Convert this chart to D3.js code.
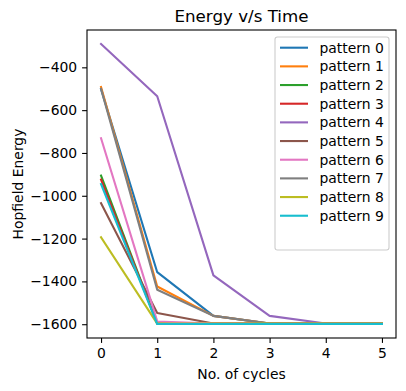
<!doctype html>
<html>
<head>
<style>
    body { margin: 0; background: white; }
    svg { display: block; font-family: "DejaVu Sans", sans-serif; }
    .axis path, .axis line { stroke: black; stroke-width: 1.1; }
    .axis text { font-size: 13.9px; fill: black; font-family: "DejaVu Sans", sans-serif; }
    .series { fill: none; stroke-width: 2.1; stroke-linejoin: round; stroke-linecap: square; }
</style>
<script src="https://d3js.org/d3.v7.min.js"></script>
</head>
<body>
<script>
    // values
    const cycles = [0, 1, 2, 3, 4, 5]
    const seriesNames = ['pattern 0', 'pattern 1', 'pattern 2', 'pattern 3', 'pattern 4',
        'pattern 5', 'pattern 6', 'pattern 7', 'pattern 8', 'pattern 9']
    const energies = [
        [-502, -1357, -1561, -1597, -1597, -1597],
        [-492, -1424, -1561, -1597, -1597, -1597],
        [-906, -1597, -1597, -1597, -1597, -1597],
        [-925, -1597, -1597, -1597, -1597, -1597],
        [-291, -535, -1372, -1561, -1597, -1597],
        [-1035, -1548, -1597, -1597, -1597, -1597],
        [-731, -1587, -1597, -1597, -1597, -1597],
        [-500, -1439, -1561, -1597, -1597, -1597],
        [-1194, -1597, -1597, -1597, -1597, -1597],
        [-945, -1599, -1599, -1599, -1599, -1599]
    ]
    const yTicks = [-400, -600, -800, -1000, -1200, -1400, -1600]
    const colors = ['#1f77b4', '#ff7f0e', '#2ca02c', '#d62728', '#9467bd',
        '#8c564b', '#e377c2', '#7f7f7f', '#bcbd22', '#17becf']

    const W = 406, H = 391
    const margin = {top: 30, right: 10, bottom: 53, left: 87}
    const iw = W - margin.left - margin.right
    const ih = H - margin.top - margin.bottom

    const svg = d3.select('body').append('svg').attr('width', W).attr('height', H)
    const g = svg.append('g').attr('transform', `translate(${margin.left},${margin.top})`)

    const allVals = energies.flat()
    const ymin = d3.min(allVals), ymax = d3.max(allVals)
    const pad = (ymax - ymin) * 0.05
    const x = d3.scaleLinear().domain([-0.25, 5.25]).range([0, iw])
    const y = d3.scaleLinear().domain([ymin - pad, ymax + pad]).range([ih, 0])

    const line = d3.line().x((d, i) => x(cycles[i])).y(d => y(d))

    g.selectAll('path.series').data(energies).enter()
        .append('path')
        .attr('class', 'series')
        .attr('d', d => line(d))
        .style('stroke', (d, i) => colors[i])

    const xAxis = g.append('g').attr('class', 'axis')
        .attr('transform', `translate(0,${ih})`)
        .call(d3.axisBottom(x).tickValues(cycles).tickSize(4.9).tickPadding(4.9).tickFormat(d3.format('d')))
    const yAxis = g.append('g').attr('class', 'axis')
        .call(d3.axisLeft(y).tickValues(yTicks).tickSize(4.9).tickPadding(4.9).tickFormat(d => d < 0 ? '\u2212' + Math.abs(d) : d))
    xAxis.select('.domain').remove()
    yAxis.select('.domain').remove()

    // frame
    g.append('rect').attr('width', iw).attr('height', ih)
        .attr('fill', 'none').attr('stroke', 'black').attr('stroke-width', 1.1)

    // title and labels
    svg.append('text').attr('x', margin.left + iw / 2).attr('y', 22)
        .attr('text-anchor', 'middle').style('font-size', '16.7px').text('Energy v/s Time')
    svg.append('text').attr('x', margin.left + iw / 2).attr('y', 379)
        .attr('text-anchor', 'middle').style('font-size', '13.9px').text('No. of cycles')
    svg.append('text').attr('transform', `translate(22.5,${margin.top + ih / 2}) rotate(-90)`)
        .attr('text-anchor', 'middle').style('font-size', '13.9px').text('Hopfield Energy')

    // legend
    const lg = svg.append('g').attr('transform', 'translate(275,37)')
    lg.append('rect').attr('width', 114).attr('height', 213).attr('rx', 2.5)
        .attr('fill', 'white').attr('fill-opacity', 0.8)
        .attr('stroke', '#cccccc').attr('stroke-width', 1.1)
    const items = lg.selectAll('g.item').data(seriesNames).enter()
        .append('g').attr('transform', (d, i) => `translate(0,${10.7 + i * 18.67})`)
    items.append('line').attr('x1', 5).attr('x2', 33)
        .attr('stroke', (d, i) => colors[i]).attr('stroke-width', 2.1)
    items.append('text').attr('x', 44.5).attr('y', 5)
        .style('font-size', '13.9px').text(d => d)
</script>
</body>
</html>
